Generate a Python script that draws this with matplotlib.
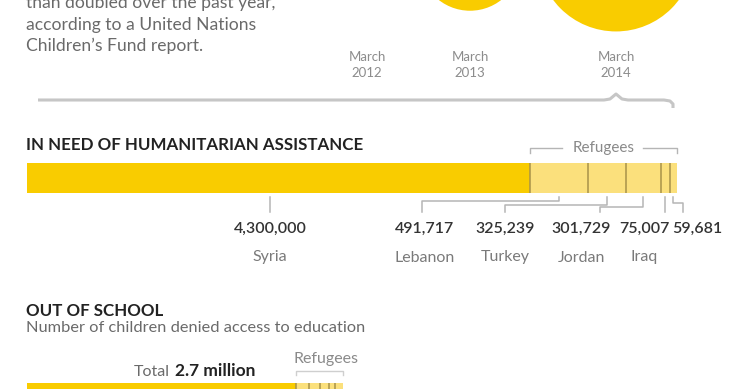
import matplotlib.pyplot as plt
import numpy as np

plt.rcParams['font.family'] = ['Lato', 'DejaVu Sans']

# --- data -------------------------------------------------------------
intro_lines = [
    "than doubled over the past year,",
    "according to a United Nations",
    "Children\u2019s Fund report.",
]

years = ["March\n2012", "March\n2013", "March\n2014"]
children_affected = [1000000, 2300000, 5500000]

need_countries = ["Syria", "Lebanon", "Turkey", "Jordan", "Iraq", ""]
need_values = [4300000, 491717, 325239, 301729, 75007, 59681]

school_total_label = "2.7 million"
school_values = [2300000, 110000, 95000, 80000, 50000, 65000]

# --- style / layout (pixels) -----------------------------------------
W, H = 740, 389
YELLOW = "#F9CC00"
LIGHT = "#FBE07C"
DIVIDER = "#A8924A"
GRAY = "#6a6a6a"
LINE_GRAY = "#b5b5b5"
DARK = "#333333"

BAR_LEFT = 27
PX_PER_PERSON = 117e-6
S_PER_PERSON = 0.00232

fig = plt.figure(figsize=(W / 100, H / 100), dpi=100)
ax = fig.add_axes([0, 0, 1, 1])
ax.set_xlim(0, W)
ax.set_ylim(H, 0)
ax.axis("off")


def bar_axes(top, height):
    width = W - BAR_LEFT
    bx = fig.add_axes([BAR_LEFT / W, 1 - (top + height) / H, width / W, height / H])
    bx.set_xlim(0, width / PX_PER_PERSON)
    bx.set_ylim(0, 1)
    bx.axis("off")
    return bx


def draw_stack(bx, values):
    lefts = np.concatenate([[0], np.cumsum(values)[:-1]])
    colors = [YELLOW] + [LIGHT] * (len(values) - 1)
    bx.barh(0.5, values, left=lefts, height=1, color=colors, linewidth=0)
    bx.vlines(lefts[1:], 0, 1, color=DIVIDER, lw=1.1)
    return lefts


def to_px(bx, v):
    return ax.transData.inverted().transform(bx.transData.transform((v, 0.5)))[0]


# --- intro text --------------------------------------------------------
for i, line in enumerate(intro_lines):
    ax.text(26, 8 + 21.5 * i, line, va="baseline", ha="left",
            fontsize=12.6, color=GRAY)

# --- circles and years -------------------------------------------------
year_x = [367, 470, 616]
circle_y = [-44, -40, -47]
ax.scatter(year_x, circle_y, s=np.array(children_affected) * S_PER_PERSON,
           color=YELLOW, linewidth=0, zorder=2)
for x, label in zip(year_x, years):
    ax.text(x, 65, label, ha="center", va="center", fontsize=9.5,
            color="#8c8c8c", linespacing=1.35)

# curly brace under the years
brace_x = [38, 604, 610, 616, 622, 628, 664, 670, 673, 673]
brace_y = [100, 100, 99, 94, 99, 100, 100, 101, 104, 108]
ax.plot(brace_x, brace_y, color="#c6c6c6", lw=2.2, solid_capstyle="butt")

# --- in need of humanitarian assistance -------------------------------
ax.text(26, 150, "IN NEED OF HUMANITARIAN ASSISTANCE", va="baseline",
        fontsize=12.2, fontweight="bold", color="#222222")

bx = bar_axes(163, 30)
lefts = draw_stack(bx, need_values)
ends = lefts + np.array(need_values)

# refugees bracket
r0 = to_px(bx, lefts[1])
r1 = to_px(bx, ends[-1])
ax.plot([r0, r0, 562], [153, 147.5, 147.5], color=LINE_GRAY, lw=1)
ax.plot([643, r1, r1], [147.5, 147.5, 153], color=LINE_GRAY, lw=1)
ax.text((r0 + r1) / 2, 152, "Refugees", ha="center", va="baseline",
        fontsize=11, color="#8a8a8a")

# leaders and labels
label_x = [270, 425, 505, 581, 644, 697]
leader_bottom = [270, 422, 505, 600, 665, 683]
elbow_y = [205, 201, 205, 207, 207, 203]
for i, (name, val) in enumerate(zip(need_countries, need_values)):
    top_x = to_px(bx, lefts[i] + val / 2) if i > 0 else leader_bottom[0]
    ax.plot([top_x, top_x, leader_bottom[i], leader_bottom[i]],
            [197, elbow_y[i], elbow_y[i], 212], color=LINE_GRAY, lw=1.1)
    ax.text(label_x[i], 233, f"{val:,}", ha="center", va="baseline",
            fontsize=11.5, fontweight="semibold", color=DARK)
    ax.text(label_x[i], 261.5, name, ha="center", va="baseline",
            fontsize=11.5, color="#7a7a7a")

# --- out of school -----------------------------------------------------
ax.text(26, 316, "OUT OF SCHOOL", va="baseline",
        fontsize=12.2, fontweight="bold", color="#222222")
ax.text(26, 331.5, "Number of children denied access to education",
        va="baseline", fontsize=11.8, color=GRAY)

sx = bar_axes(383, 30)
s_lefts = draw_stack(sx, school_values)
s0 = to_px(sx, s_lefts[1])
s1 = to_px(sx, sum(school_values))
ax.plot([s0, s0, s1, s1], [375, 370.5, 370.5, 375], color="#cfcfcf", lw=1)
ax.text(326, 363, "Refugees", ha="center", va="baseline",
        fontsize=11.5, color="#8a8a8a")
ax.text(170, 376.5, "Total", ha="right", va="baseline", fontsize=11.5,
        color=GRAY)
ax.text(175, 376.5, school_total_label, ha="left", va="baseline",
        fontsize=12.5, fontweight="bold", color="#222222")

fig.savefig("out.png", dpi=100, facecolor="white")
